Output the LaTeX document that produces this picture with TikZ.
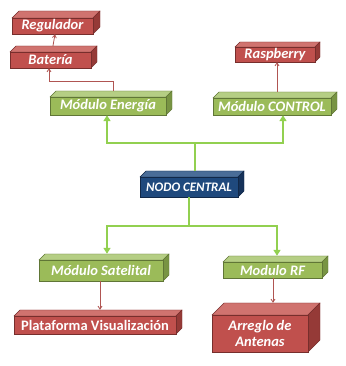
\documentclass[tikz,border=0pt]{standalone}
\usepackage{fontspec}
\setmainfont{Carlito}
\usetikzlibrary{arrows.meta}
\definecolor{rfront}{HTML}{C0504D}
\definecolor{rtop}{HTML}{D0736F}
\definecolor{rside}{HTML}{953A37}
\definecolor{gfront}{HTML}{9BBB59}
\definecolor{gtop}{HTML}{B5CE84}
\definecolor{gside}{HTML}{789443}
\definecolor{bfront}{HTML}{1F497D}
\definecolor{btop}{HTML}{4A6D98}
\definecolor{bside}{HTML}{15325A}
\definecolor{gline}{HTML}{92D050}
\definecolor{rline}{HTML}{B05552}
\tikzset{
  cubefront/.style={inner sep=0pt, text=white, font=\fontsize{14.5}{16}\selectfont\bfseries\itshape, align=center, draw=#1side!80!black, line width=0.4pt},
  garrow/.style={draw=gline, line width=1.8pt, -{Triangle[width=7pt,length=6pt]}},
  rarrow/.style={draw=rline, line width=0.8pt, -{Straight Barb[width=4pt,length=3pt]}},
}
% #1 name, #2 cx, #3 cy(img), #4 w, #5 h, #6 depth, #7 colour prefix, #8 text
\newcommand\mycube[8]{%
  \fill[#7top, draw=#7side!80!black, line width=0.4pt] (#2-#4/2,366-#3+#5/2) -- ++(#6,#6) -- ++(#4,0) -- ++(-#6,-#6) -- cycle;
  \fill[#7side, draw=#7side!80!black, line width=0.4pt] (#2+#4/2,366-#3+#5/2) -- ++(#6,#6) -- ++(0,-#5) -- ++(-#6,-#6) -- cycle;
  \node[cubefront=#7, fill=#7front, minimum width=#4pt, minimum height=#5pt] (#1) at (#2,366-#3) {#8};
}
\begin{document}
\begin{tikzpicture}[x=1pt,y=1pt]
\useasboundingbox (0,0) rectangle (345,366);
\mycube{reg}{52.5}{26}{81}{16}{7}{r}{Regulador}
\mycube{bat}{50.5}{60}{81}{16}{6}{r}{Batería}
\mycube{ras}{275}{54.5}{80}{15}{5}{r}{Raspberry}
\mycube{ene}{108}{106}{116}{18}{6}{g}{Módulo Energía}
\mycube{con}{272}{106.5}{118}{17}{6}{g}{Módulo CONTROL}
\mycube{nod}{189}{187}{98}{20}{6}{b}{\fontsize{13}{14}\selectfont NODO CENTRAL}
\mycube{sat}{101}{270.5}{124}{21}{6}{g}{Módulo Satelital}
\mycube{rf}{272.5}{270}{99}{16}{6}{g}{Modulo RF}
\mycube{pla}{95}{325}{162}{18}{6}{r}{\upshape Plataforma Visualización}
\mycube{arr}{260}{333.5}{96}{37}{12}{r}{Arreglo de\\Antenas}
% red connectors
\draw[rarrow] ([xshift=2.5pt]bat.north) ++(0,6) -- ([xshift=2.5pt]reg.south);
\draw[rarrow] ([xshift=5pt]ene.north) ++(0,6) -- (113,366-81) -| ([xshift=-1.5pt]bat.south);
\draw[rarrow] ([xshift=5pt]con.north) ++(0,6) -- ([xshift=2pt]ras.south);
\draw[rarrow] ([xshift=-1pt]sat.south) -- ([xshift=-1pt,yshift=6pt]sat.south |- pla.north);
\draw[rarrow] ([xshift=0.5pt]rf.south) -- ([xshift=0.5pt,yshift=12pt]rf.south |- arr.north);
% green connectors
\draw[garrow] ([xshift=6pt]nod.north) ++(0,6) |- (107,366-143) -- (ene.south -| 107,0);
\draw[garrow] ([xshift=6pt]nod.north) ++(0,6) |- (283,366-143) -- (con.south -| 283,0);
\draw[garrow] (nod.south) |- (107,366-226) -- ([yshift=6pt]sat.north -| 107,0);
\draw[garrow] (nod.south) |- (277,366-226) -- ([yshift=6pt]rf.north -| 277,0);
\end{tikzpicture}
\end{document}
